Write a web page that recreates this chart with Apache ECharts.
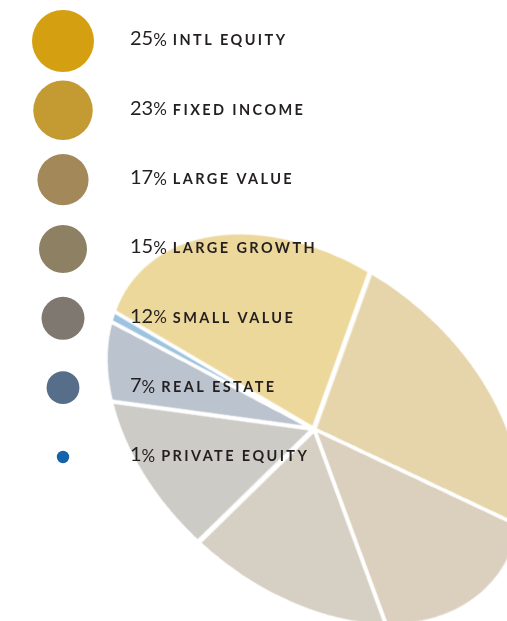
<!DOCTYPE html>
<html>
<head>
<meta charset="utf-8">
<script src="https://cdn.jsdelivr.net/npm/echarts@6/dist/echarts.min.js"></script>
<style>
  html, body { margin: 0; padding: 0; background: #ffffff; }
  body { width: 507px; height: 621px; overflow: hidden; position: relative; }
  #pie {
    position: absolute; left: 74px; top: 189px; width: 480px; height: 480px;
    transform-origin: 240px 240px;
    transform: matrix(0.2383, -0.6638, 0.8468, 0.4979, 0, 0);
    z-index: 1;
  }
  #legend { position: absolute; left: 0; top: 0; width: 507px; height: 621px; z-index: 2; }
</style>
</head>
<body>
<div id="pie"></div>
<div id="legend"></div>
<script>
// ---- data ----
const categories = ['INTL EQUITY', 'FIXED INCOME', 'LARGE VALUE', 'LARGE GROWTH', 'SMALL VALUE', 'REAL ESTATE', 'PRIVATE EQUITY'];
const percents = [25, 23, 17, 15, 12, 7, 1];
const legendColors = ['#d4a011', '#c49a33', '#a3895a', '#8e8063', '#7e7870', '#566e8a', '#1563ad'];
const sliceColors = ['#edd89c', '#e6d5aa', '#dbcfbd', '#d6cfc3', '#cdcbc6', '#bbc3cf', '#9dc3e0'];

// letter spacing for the small-caps labels (canvas text)
(function () {
  const proto = CanvasRenderingContext2D.prototype;
  const orig = proto.fillText;
  proto.fillText = function (t, x, y, w) {
    const spaced = /14\.5px/.test(this.font);
    if ('letterSpacing' in this) this.letterSpacing = spaced ? '2.4px' : '0px';
    const r = w === undefined ? orig.call(this, t, x, y) : orig.call(this, t, x, y, w);
    if ('letterSpacing' in this) this.letterSpacing = '0px';
    return r;
  };
})();

// ---- pie (projected/tilted) ----
const pieChart = echarts.init(document.getElementById('pie'), null, { renderer: 'canvas' });
pieChart.setOption({
  animation: false,
  series: [{
    type: 'pie',
    center: ['50%', '50%'],
    radius: 237,
    startAngle: 90,
    clockwise: true,
    label: { show: false },
    labelLine: { show: false },
    emphasis: { disabled: true },
    itemStyle: { borderColor: '#ffffff', borderWidth: 5.2 },
    data: categories.map((c, i) => ({ name: c, value: percents[i], itemStyle: { color: sliceColors[i] } }))
  }]
});

// ---- legend (bubbles + labels) ----
const legendChart = echarts.init(document.getElementById('legend'), null, { renderer: 'canvas' });
legendChart.setOption({
  animation: false,
  grid: { left: 33, right: 414, top: 41, bottom: 164 },
  xAxis: { type: 'category', data: ['x'], show: false },
  yAxis: {
    type: 'category',
    position: 'right',
    inverse: true,
    boundaryGap: false,
    data: categories,
    axisLine: { show: false },
    axisTick: { show: false },
    splitLine: { show: false },
    axisLabel: {
      margin: 37,
      interval: 0,
      formatter: (val, idx) => '{n|' + percents[idx] + '}{p|%}{c|' + val + '}',
      rich: {
        n: { fontFamily: 'Lato', fontSize: 20, color: '#231f20', lineHeight: 20, verticalAlign: 'bottom', padding: [0, 0, 2, 0] },
        p: { fontFamily: 'Lato', fontSize: 17, color: '#231f20', lineHeight: 17, verticalAlign: 'bottom', padding: [0, 0, 2, 0] },
        c: { fontFamily: 'Lato', fontSize: 14.5, fontWeight: 'bold', color: '#231f20', lineHeight: 14, verticalAlign: 'bottom', padding: [0, 0, 3, 6] }
      }
    }
  },
  series: [{
    type: 'scatter',
    symbol: 'circle',
    symbolSize: v => Math.sqrt(v[2]) * 12.4,
    itemStyle: { opacity: 1 },
    emphasis: { disabled: true },
    data: percents.map((p, i) => ({ value: [0, i, p], itemStyle: { color: legendColors[i] } }))
  }]
});
</script>
</body>
</html>
